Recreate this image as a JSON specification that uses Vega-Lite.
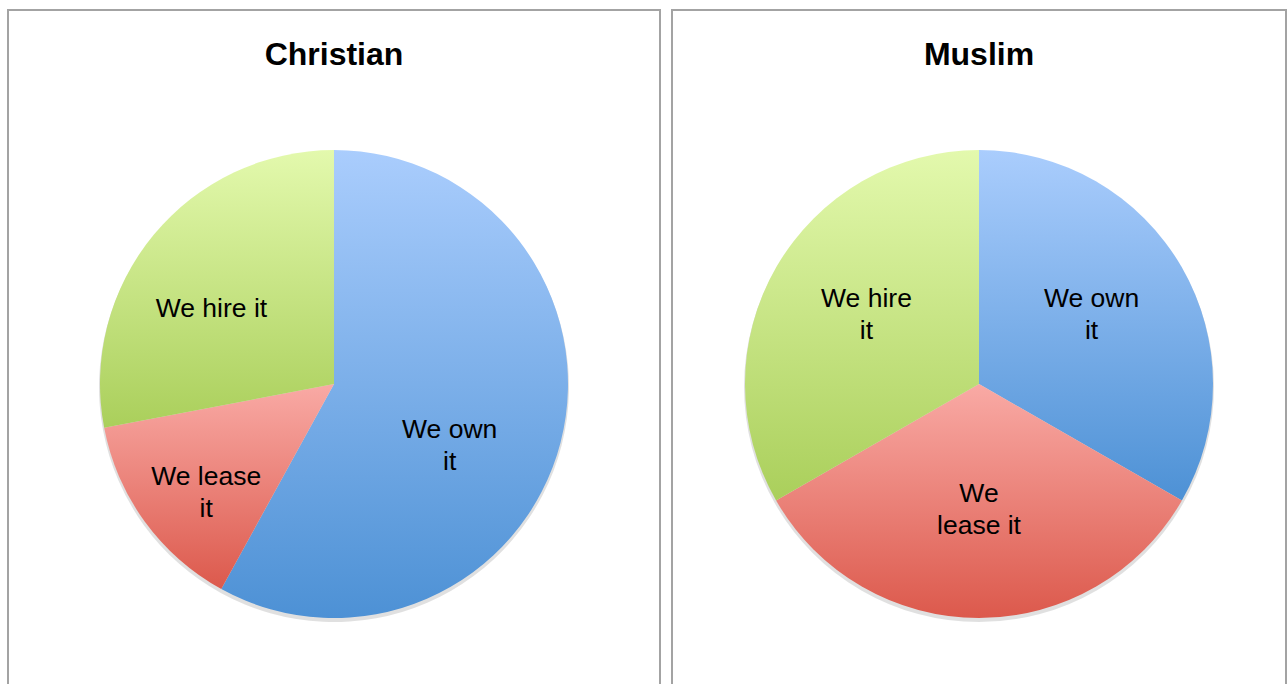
{
  "$schema": "https://vega.github.io/schema/vega-lite/v6.json",
  "padding": {"left": 7, "top": 9, "right": 0, "bottom": 0},
  "background": "white",
  "data": {
    "values": [
      {"religion": "Christian", "type": "We own it", "order": 1, "pct": 58, "label": ["We own", "it"]},
      {"religion": "Christian", "type": "We lease it", "order": 2, "pct": 14, "label": ["We lease", "it"]},
      {"religion": "Christian", "type": "We hire it", "order": 3, "pct": 28, "label": ["We hire it"]},
      {"religion": "Muslim", "type": "We own it", "order": 1, "pct": 33.3, "label": ["We own", "it"]},
      {"religion": "Muslim", "type": "We lease it", "order": 2, "pct": 33.4, "label": ["We", "lease it"]},
      {"religion": "Muslim", "type": "We hire it", "order": 3, "pct": 33.3, "label": ["We hire", "it"]}
    ]
  },
  "spacing": 10,
  "hconcat": [
    {
      "width": 652,
      "height": 748,
      "view": {"stroke": "#a3a3a3", "strokeWidth": 2, "fill": "white"},
      "title": {"text": "Christian", "offset": -62},
      "transform": [{"filter": "datum.religion === 'Christian'"}],
      "layer": [
        {
          "mark": {"type": "arc", "radius": 235, "yOffset": 3, "fill": "#000", "opacity": 0.12},
          "encoding": {
            "theta": {"field": "pct", "type": "quantitative", "stack": true},
            "order": {"field": "order", "type": "quantitative"}
          }
        },
        {
          "mark": {"type": "arc", "radius": 234},
          "encoding": {
            "theta": {"field": "pct", "type": "quantitative", "stack": true},
            "order": {"field": "order", "type": "quantitative"},
            "detail": {"field": "type"},
            "fill": {
              "condition": [
                {"test": "datum.type === 'We own it'", "value": {"gradient": "linear", "x1": 0, "y1": 0, "x2": 0, "y2": 1, "stops": [{"offset": 0, "color": "#aacdfd"}, {"offset": 1, "color": "#4d91d5"}]}},
                {"test": "datum.type === 'We lease it'", "value": {"gradient": "linear", "x1": 0, "y1": 0, "x2": 0, "y2": 1, "stops": [{"offset": 0, "color": "#f9aaa5"}, {"offset": 1, "color": "#dc594c"}]}}
              ],
              "value": {"gradient": "linear", "x1": 0, "y1": 0, "x2": 0, "y2": 1, "stops": [{"offset": 0, "color": "#e3f9ad"}, {"offset": 1, "color": "#aacf5b"}]}
            }
          }
        },
        {
          "mark": {"type": "text", "radius": 137, "dx": -17, "dy": 12, "font": "Liberation Sans", "fontSize": 26.5, "lineHeight": 32, "baseline": "middle", "align": "center", "color": "#000"},
          "encoding": {
            "theta": {"field": "pct", "type": "quantitative", "stack": true},
            "order": {"field": "order", "type": "quantitative"},
            "detail": {"field": "type"},
            "text": {"field": "label"}
          }
        }
      ]
    },
    {
      "width": 614,
      "height": 748,
      "view": {"stroke": "#a3a3a3", "strokeWidth": 2, "fill": "white"},
      "title": {"text": "Muslim", "offset": -62},
      "transform": [{"filter": "datum.religion === 'Muslim'"}],
      "layer": [
        {
          "mark": {"type": "arc", "radius": 235, "yOffset": 3, "fill": "#000", "opacity": 0.12},
          "encoding": {
            "theta": {"field": "pct", "type": "quantitative", "stack": true},
            "order": {"field": "order", "type": "quantitative"}
          }
        },
        {
          "mark": {"type": "arc", "radius": 234},
          "encoding": {
            "theta": {"field": "pct", "type": "quantitative", "stack": true},
            "order": {"field": "order", "type": "quantitative"},
            "detail": {"field": "type"},
            "fill": {
              "condition": [
                {"test": "datum.type === 'We own it'", "value": {"gradient": "linear", "x1": 0, "y1": 0, "x2": 0, "y2": 1, "stops": [{"offset": 0, "color": "#aacdfd"}, {"offset": 1, "color": "#4d91d5"}]}},
                {"test": "datum.type === 'We lease it'", "value": {"gradient": "linear", "x1": 0, "y1": 0, "x2": 0, "y2": 1, "stops": [{"offset": 0, "color": "#f9aaa5"}, {"offset": 1, "color": "#dc594c"}]}}
              ],
              "value": {"gradient": "linear", "x1": 0, "y1": 0, "x2": 0, "y2": 1, "stops": [{"offset": 0, "color": "#e3f9ad"}, {"offset": 1, "color": "#aacf5b"}]}
            }
          }
        },
        {
          "mark": {"type": "text", "radius": 130, "dy": -20, "font": "Liberation Sans", "fontSize": 26.5, "lineHeight": 32, "baseline": "middle", "align": "center", "color": "#000"},
          "encoding": {
            "theta": {"field": "pct", "type": "quantitative", "stack": true},
            "order": {"field": "order", "type": "quantitative"},
            "detail": {"field": "type"},
            "text": {"field": "label"}
          }
        }
      ]
    }
  ],
  "config": {
    "view": {"stroke": "#a3a3a3", "strokeWidth": 2},
    "title": {"font": "Liberation Sans", "fontSize": 32, "fontWeight": "bold", "color": "#000", "anchor": "middle"}
  }
}
